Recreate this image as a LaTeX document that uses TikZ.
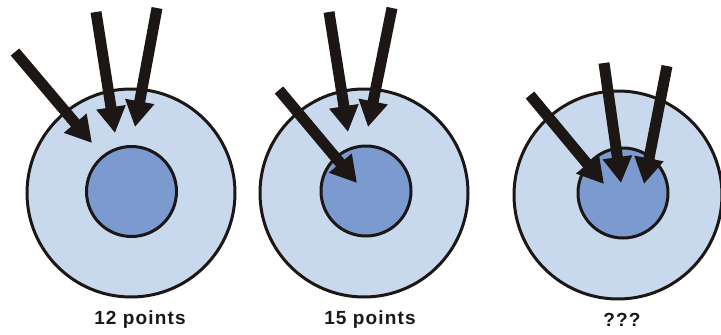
\documentclass[tikz,border=0pt]{standalone}
\usepackage{fontspec}
\setmainfont{Liberation Sans}
\usetikzlibrary{positioning,arrows.meta}
\definecolor{albastrudeschis}{RGB}{200,217,237}
\definecolor{albastru}{RGB}{122,154,208}
\definecolor{negru}{RGB}{28,22,20}
\tikzset{
  tinta/.style    = {circle, draw=negru, line width=3pt, fill=albastrudeschis,
                     minimum size=208pt, inner sep=0pt},
  centru/.style   = {circle, draw=negru, line width=3pt, fill=albastru,
                     minimum size=90pt, inner sep=0pt},
  eticheta/.style = {font=\fontsize{19}{22}\selectfont\bfseries\addfontfeature{LetterSpace=6},
                     text=negru, inner sep=0pt},
  sageata/.style  = {-{Triangle[width=28pt,length=26pt]}, line width=11pt, draw=negru}
}

\begin{document}
\begin{tikzpicture}[x=1pt, y=-1pt]
        \useasboundingbox (0,0) rectangle (721,335);

        % tinte
        \node[tinta] (tinta1) at (131,193) {};
        \node[tinta] (tinta2) at (364,193) {};
        \node[tinta] (tinta3) at (618,195) {};
        \node[centru] (centru1) at (131.5,191.5) {};
        \node[centru] (centru2) at (366,191) {};
        \node[centru] (centru3) at (623,193) {};

        \node[eticheta] (et1) at (140,320) {12 points};
        \node[eticheta] (et2) at (370,320) {15 points};
        \node[eticheta] (et3) at (622,320) {???};

        % capete si varfuri
        \coordinate (a1) at (15,52);   \coordinate (va1) at (92,143);
        \coordinate (b1) at (96,12);   \coordinate (vb1) at (115,133);
        \coordinate (c1) at (157,8);   \coordinate (vc1) at (135,127);
        \coordinate (a2) at (279,90);  \coordinate (va2) at (357,183);
        \coordinate (b2) at (329,12);  \coordinate (vb2) at (348,132);
        \coordinate (c2) at (392,8);   \coordinate (vc2) at (368,127);
        \coordinate (a3) at (530,95);  \coordinate (va3) at (604,184);
        \coordinate (b3) at (604,63);  \coordinate (vb3) at (621,183);
        \coordinate (c3) at (667,66);  \coordinate (vc3) at (644,184);

        \draw[sageata] (a1) -- (va1);
        \draw[sageata] (b1) -- (vb1);
        \draw[sageata] (c1) -- (vc1);
        \draw[sageata] (a2) -- (va2);
        \draw[sageata] (b2) -- (vb2);
        \draw[sageata] (c2) -- (vc2);
        \draw[sageata] (a3) -- (va3);
        \draw[sageata] (b3) -- (vb3);
        \draw[sageata] (c3) -- (vc3);
    \end{tikzpicture}
\end{document}
